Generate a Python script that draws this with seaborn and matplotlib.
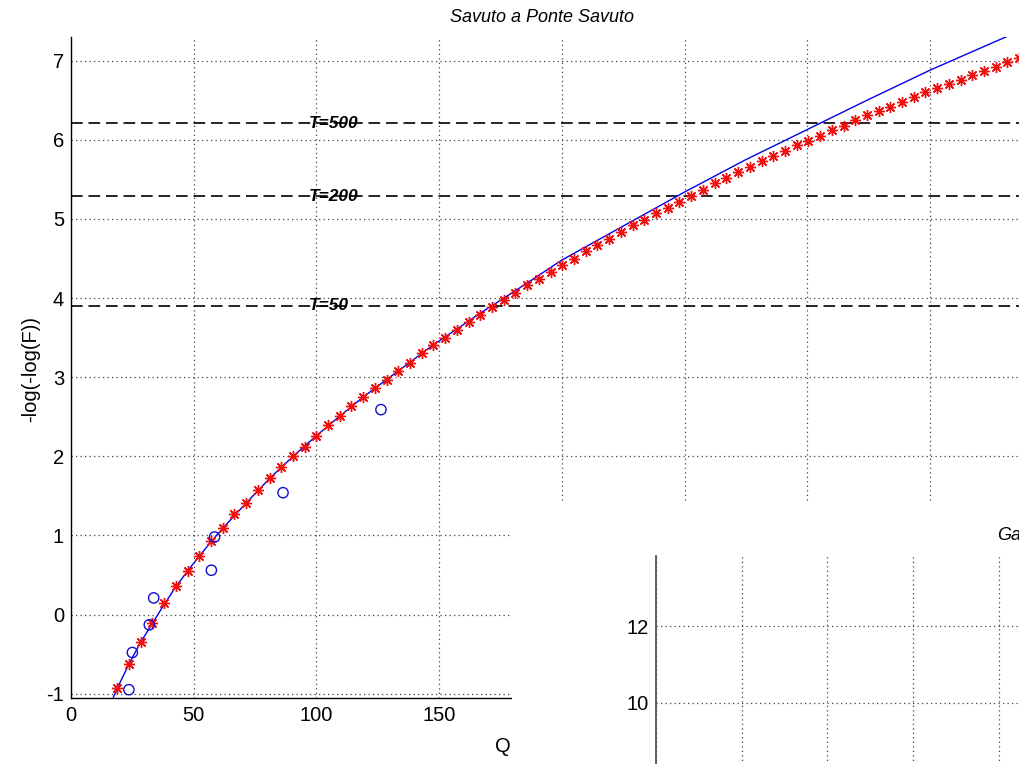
import matplotlib
matplotlib.use("Agg")
import matplotlib.pyplot as plt
import seaborn as sns
import numpy as np
from matplotlib.patches import Rectangle
from matplotlib.ticker import MultipleLocator, FuncFormatter

# ---------------- data ----------------
star_q = [18.9, 23.7, 28.4, 33.2, 38.0, 42.7, 47.5, 52.3, 57.1, 61.8,
          66.6, 71.4, 76.2, 80.9, 85.7, 90.5, 95.2, 100.0, 104.8, 109.6,
          114.3, 119.1, 123.9, 128.6, 133.4, 138.2, 143.0, 147.7, 152.5, 157.3,
          162.0, 166.8, 171.6, 176.4, 181.1, 185.9, 190.7, 195.5, 200.2, 205.0,
          209.8, 214.5, 219.3, 224.1, 228.9, 233.6, 238.4, 243.2, 247.9, 252.7,
          257.5, 262.3, 267.0, 271.8, 276.6, 281.4, 286.1, 290.9, 295.7, 300.4,
          305.2, 310.0, 314.8, 319.5, 324.3, 329.1, 333.9, 338.6, 343.4, 348.2,
          352.9, 357.7, 362.5, 367.3, 372.0, 376.8, 381.6, 386.4]
star_y = [-0.93, -0.63, -0.35, -0.11, 0.14, 0.36, 0.55, 0.74, 0.93, 1.09,
          1.27, 1.41, 1.57, 1.72, 1.87, 2.01, 2.12, 2.26, 2.39, 2.51,
          2.63, 2.75, 2.86, 2.97, 3.08, 3.18, 3.30, 3.41, 3.50, 3.60,
          3.70, 3.79, 3.89, 3.98, 4.07, 4.16, 4.24, 4.33, 4.42, 4.50,
          4.59, 4.67, 4.75, 4.84, 4.92, 4.99, 5.07, 5.14, 5.21, 5.29,
          5.37, 5.45, 5.52, 5.59, 5.66, 5.73, 5.80, 5.86, 5.93, 5.99,
          6.05, 6.12, 6.18, 6.25, 6.31, 6.37, 6.42, 6.48, 6.54, 6.60,
          6.65, 6.71, 6.76, 6.82, 6.87, 6.92, 6.98, 7.03]

line_q = [17.2, 18.9, 23.7, 28.4, 33.2, 38.0, 42.7, 47.5, 52.3, 57.1, 61.8,
          71.4, 80.9, 90.5, 100.0, 109.6, 119.1, 128.6, 138.2, 147.7, 157.3,
          166.8, 176.4, 185.9, 200.0, 225.0, 250.0, 275.0, 300.0, 325.0, 350.0,
          375.0, 392.0]
line_y = [-1.05, -0.93, -0.62, -0.35, -0.11, 0.13, 0.35, 0.55, 0.74, 0.92, 1.09,
          1.41, 1.72, 2.00, 2.26, 2.51, 2.75, 2.97, 3.19, 3.41, 3.61,
          3.81, 4.00, 4.19, 4.48, 4.91, 5.34, 5.75, 6.13, 6.51, 6.88,
          7.22, 7.45]

obs_q = [23.6, 25.0, 31.9, 33.7, 57.2, 58.5, 86.4, 126.3]
obs_y = [-0.95, -0.48, -0.13, 0.21, 0.56, 0.98, 1.54, 2.59]

t_labels = ["T=50", "T=200", "T=500"]
t_y = [3.90, 5.29, 6.21]
t_label_x = 97

main_x_ticklabels = ["0", "50", "100", "150"]
second_y_ticklabels = ["10", "12"]

main_title = "Savuto a Ponte Savuto"
second_title = "Ga"
x_label = "Q"
y_label = "-log(-log(F))"

# ---------------- style ----------------
sns.set_style("white")
plt.rcParams["font.family"] = ["Liberation Sans", "DejaVu Sans"]
plt.rcParams["axes.unicode_minus"] = False
plt.rcParams["text.color"] = "black"
plt.rcParams["axes.labelcolor"] = "black"
plt.rcParams["xtick.color"] = "black"
plt.rcParams["ytick.color"] = "black"

W, H = 1019, 764
fig = plt.figure(figsize=(W / 100, H / 100), dpi=100)
fig.patch.set_facecolor("white")


def fx(px):
    return px / W


def fy(py):
    return 1 - py / H


grid_kw = dict(color="#444444", linestyle=(0, (1, 2.6)), linewidth=0.9)

# ---------------- main axes ----------------
left_px, right_px, top_px, bot_px = 71, 1100, 37, 698
ax = fig.add_axes([fx(left_px), fy(bot_px), fx(right_px - left_px), (bot_px - top_px) / H])
ax.set_facecolor("white")

sns.lineplot(x=line_q, y=line_y, ax=ax, color="#0000ee", linewidth=1.0,
             sort=False, estimator=None, zorder=3)
sns.lineplot(x=star_q, y=star_y, ax=ax, color="red", linestyle="",
             marker=(8, 2, 0), markersize=8, markeredgecolor="#f01010",
             markeredgewidth=1.0, sort=False, estimator=None, zorder=4)
sns.scatterplot(x=obs_q, y=obs_y, ax=ax, marker="o", s=55,
                facecolor="none", edgecolor="#1010cc", linewidth=1.0, zorder=5)

for lab, yv in zip(t_labels, t_y):
    ax.axhline(yv, color="black", linewidth=1.2, dashes=(7, 3.5), zorder=2)
    ax.text(t_label_x, yv, lab, ha="left", va="center", fontsize=12.5,
            fontstyle="italic", fontweight="bold", color="black", zorder=6)

ax.set_xlim(0, (right_px - left_px) / 2.454)
ax.set_ylim(-1.055, 7.30)
ax.xaxis.set_major_locator(MultipleLocator(50))
ax.yaxis.set_major_locator(MultipleLocator(1))


def main_x_fmt(v, pos):
    s = "%d" % round(v)
    return s if s in main_x_ticklabels else ""


ax.xaxis.set_major_formatter(FuncFormatter(main_x_fmt))
ax.grid(True, **grid_kw)
ax.set_axisbelow(True)
for s in ["top", "right"]:
    ax.spines[s].set_visible(False)
for s in ["left", "bottom"]:
    ax.spines[s].set_color("black")
    ax.spines[s].set_linewidth(1.0)
ax.tick_params(direction="in", length=7, width=1.0, labelsize=14.5, pad=6,
               colors="black")
ax.tick_params(axis="y", pad=5)
ax.set_xlabel("")
ax.set_ylabel("")

fig.text(fx(542), fy(17), main_title, ha="center", va="center", fontsize=13,
         fontstyle="italic", color="black")
fig.text(fx(31), fy(369), y_label, ha="center", va="center", rotation=90,
         fontsize=14.5, color="black")
fig.text(fx(503), fy(747), x_label, ha="center", va="center", fontsize=14.5,
         color="black")

# ---------------- overlapping second panel ----------------
cover = Rectangle((fx(512), 0), 1 - fx(512), fy(503), transform=fig.transFigure,
                  facecolor="white", edgecolor="none", zorder=1)
fig.patches.append(cover)

a2_left, a2_top, a2_right, a2_bot = 656, 556, 1300, 900
ax2 = fig.add_axes([fx(a2_left), fy(a2_bot), fx(a2_right - a2_left), (a2_bot - a2_top) / H])
ax2.set_zorder(2)
ax2.set_facecolor("white")
ax2.set_xlim(0, (a2_right - a2_left) / 85.7)
ax2.set_ylim(12 - (a2_bot - 626) / 38.5, 12 + (626 - a2_top) / 38.5)
ax2.xaxis.set_major_locator(MultipleLocator(1))
ax2.yaxis.set_major_locator(MultipleLocator(2))


def second_y_fmt(v, pos):
    s = "%d" % round(v)
    return s if s in second_y_ticklabels else ""


ax2.yaxis.set_major_formatter(FuncFormatter(second_y_fmt))
ax2.grid(True, **grid_kw)
for s in ["top", "right"]:
    ax2.spines[s].set_visible(False)
ax2.spines["left"].set_color("#555555")
ax2.spines["left"].set_linewidth(1.3)
ax2.tick_params(direction="in", length=7, width=1.0, labelsize=14.5, pad=5,
                colors="black", labelbottom=False)
fig.text(fx(997), fy(535), second_title, ha="left", va="center", fontsize=13,
         fontstyle="italic", color="black", zorder=3)

fig.savefig("out.png", dpi=100, facecolor="white")
